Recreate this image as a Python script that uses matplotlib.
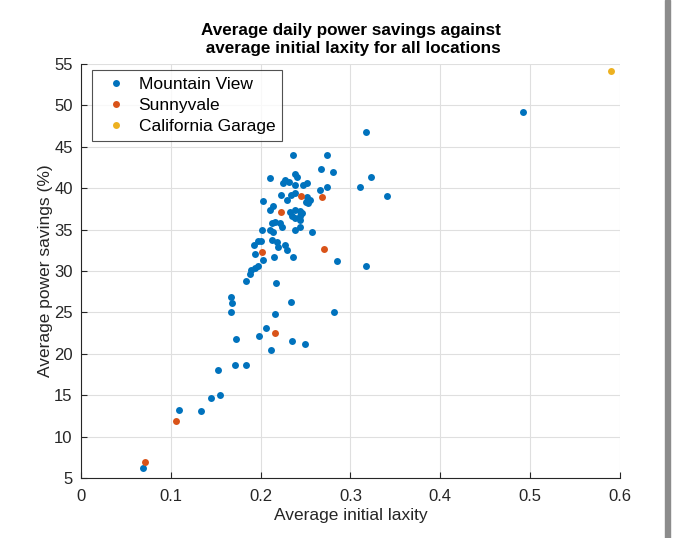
import matplotlib
matplotlib.use('Agg')
import matplotlib.pyplot as plt
from matplotlib.patches import Rectangle

# Mountain View (laxity, savings %)
mv_x = [0.236, 0.274, 0.267, 0.280, 0.210, 0.238, 0.241, 0.227, 0.231, 0.225,
        0.238, 0.247, 0.252, 0.274, 0.266, 0.223, 0.234, 0.238, 0.229, 0.252,
        0.255, 0.251, 0.253, 0.203, 0.214, 0.210, 0.233, 0.238, 0.244, 0.235,
        0.244, 0.246, 0.238, 0.244, 0.213, 0.216, 0.222, 0.224, 0.210, 0.214,
        0.202, 0.238, 0.244, 0.257, 0.213, 0.218, 0.219, 0.227, 0.229, 0.197,
        0.200, 0.193, 0.194, 0.215, 0.203, 0.236, 0.197, 0.194, 0.189, 0.188,
        0.184, 0.217, 0.285, 0.317, 0.282, 0.167, 0.168, 0.234, 0.167, 0.216,
        0.206, 0.198, 0.172, 0.235, 0.249, 0.211, 0.152, 0.171, 0.184, 0.145,
        0.155, 0.134, 0.109, 0.069, 0.317, 0.323, 0.311, 0.341, 0.492]
mv_y = [44.0, 44.0, 42.3, 42.0, 41.2, 41.7, 41.4, 41.0, 40.7, 40.6,
        40.4, 40.4, 40.6, 40.1, 39.8, 39.2, 39.2, 39.4, 38.6, 38.9,
        38.6, 38.3, 38.2, 38.5, 37.9, 37.4, 37.1, 37.4, 37.2, 36.6,
        36.6, 37.0, 36.4, 36.2, 35.8, 35.9, 35.8, 35.3, 35.0, 34.7,
        35.0, 35.0, 35.3, 34.7, 33.7, 33.5, 32.9, 33.1, 32.5, 33.6,
        33.6, 33.1, 32.1, 31.7, 31.3, 31.7, 30.6, 30.4, 30.1, 29.6,
        28.8, 28.6, 31.2, 30.6, 25.0, 26.8, 26.1, 26.3, 25.0, 24.8,
        23.1, 22.2, 21.8, 21.6, 21.2, 20.5, 18.1, 18.6, 18.6, 14.7,
        15.0, 13.1, 13.2, 6.2, 46.8, 41.3, 40.1, 39.0, 49.2]

# Sunnyvale
sv_x = [0.245, 0.268, 0.223, 0.202, 0.271, 0.216, 0.106, 0.071]
sv_y = [39.1, 38.9, 37.1, 32.3, 32.7, 22.5, 11.9, 6.9]

# California Garage
cg_x = [0.590]
cg_y = [54.2]

xticks = [0, 0.1, 0.2, 0.3, 0.4, 0.5, 0.6]
xtick_labels = ['0', '0.1', '0.2', '0.3', '0.4', '0.5', '0.6']
yticks = [5, 10, 15, 20, 25, 30, 35, 40, 45, 50, 55]

plt.rcParams['font.family'] = ['Liberation Sans', 'DejaVu Sans']

fig = plt.figure(figsize=(6.94, 5.38), dpi=100)
ax = fig.add_axes([81 / 694, 60 / 538, 539 / 694, 414 / 538])

ax.plot(mv_x, mv_y, 'o', color='#0072BD', markersize=5, markeredgewidth=0, label='Mountain View')
ax.plot(sv_x, sv_y, 'o', color='#D95319', markersize=5, markeredgewidth=0, label='Sunnyvale')
ax.plot(cg_x, cg_y, 'o', color='#EDB120', markersize=5, markeredgewidth=0, label='California Garage')

ax.set_xlim(0, 0.6)
ax.set_ylim(5, 55)
ax.set_xticks(xticks)
ax.set_xticklabels(xtick_labels)
ax.set_yticks(yticks)
ax.grid(True, color='#dfdfdf', linewidth=0.8)
ax.set_axisbelow(True)
for s in ['top', 'right']:
    ax.spines[s].set_visible(False)
for s in ['left', 'bottom']:
    ax.spines[s].set_color('#262626')
    ax.spines[s].set_linewidth(0.8)
ax.tick_params(direction='in', length=4, width=0.8, colors='#262626', labelsize=12)
ax.tick_params(axis='x', pad=8)
ax.tick_params(axis='y', pad=6)

ax.set_xlabel('Average initial laxity', fontsize=12.5, color='#262626', labelpad=3)
ax.set_ylabel('Average power savings (%)', fontsize=12.5, color='#262626', labelpad=1)
ax.set_title('Average daily power savings against\n average initial laxity for all locations',
             fontsize=12.3, fontweight='bold', color='#000000', pad=8, linespacing=1.2)

leg = ax.legend(loc='upper left', fontsize=12.5, frameon=True, fancybox=False,
                handletextpad=0.3, borderpad=0.4, labelspacing=0.33,
                bbox_to_anchor=(0.02, 0.985), handlelength=2.0, borderaxespad=0)
leg.get_frame().set_edgecolor('#262626')
leg.get_frame().set_linewidth(0.8)

# gray strip on the right edge of the screenshot
fig.patches.append(Rectangle((665 / 694, 0), 5 / 694, 1, transform=fig.transFigure,
                             color='#8c8c8c', zorder=0))

fig.savefig('out.png', dpi=100)
